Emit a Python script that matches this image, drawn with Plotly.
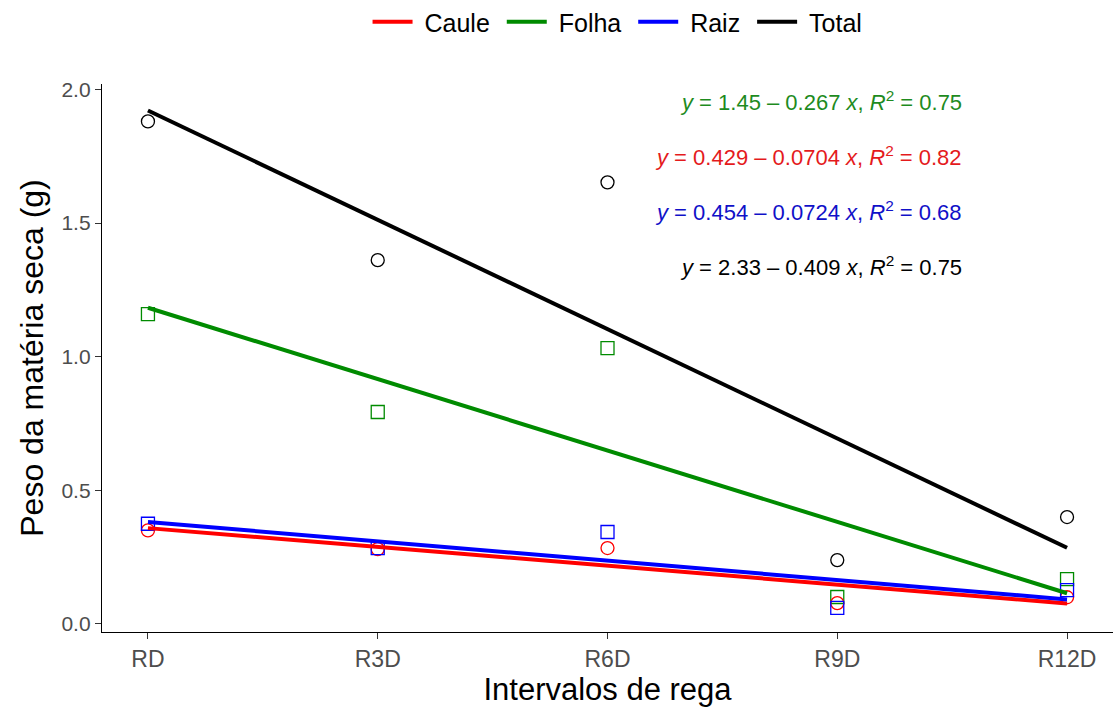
import plotly.graph_objects as go

categories = ["RD", "R3D", "R6D", "R9D", "R12D"]
x_pos = [1, 2, 3, 4, 5]

caule = [0.350, 0.280, 0.284, 0.078, 0.100]
folha = [1.159, 0.793, 1.032, 0.101, 0.168]
raiz = [0.375, 0.284, 0.344, 0.060, 0.127]
total = [1.880, 1.361, 1.652, 0.239, 0.400]

series_names = ["Caule", "Folha", "Raiz", "Total"]
intercepts = [0.429, 1.45, 0.454, 2.33]
slopes = [-0.0704, -0.267, -0.0724, -0.409]
r2 = [0.82, 0.75, 0.68, 0.75]

colors = {"Caule": "#FF0000", "Folha": "#008B00", "Raiz": "#0000FF", "Total": "#000000"}
text_colors = {"Caule": "#E41A1C", "Folha": "#1E8B1E", "Raiz": "#1010C8", "Total": "#000000"}
symbols = {"Caule": "circle-open", "Folha": "square-open", "Raiz": "square-open", "Total": "circle-open"}
values = {"Caule": caule, "Folha": folha, "Raiz": raiz, "Total": total}

FONT = "Liberation Sans, Arial, sans-serif"
NB = "\u00a0"

fig = go.Figure()

# points
for name in ["Folha", "Caule", "Raiz", "Total"]:
    fig.add_trace(go.Scatter(
        x=x_pos, y=values[name], mode="markers", showlegend=False,
        marker=dict(symbol=symbols[name], size=13, color=colors[name],
                    line=dict(width=1.3, color=colors[name])),
    ))

# regression lines
idx = {n: i for i, n in enumerate(series_names)}
for name in ["Caule", "Raiz", "Folha", "Total"]:
    i = idx[name]
    xs = [x_pos[0], x_pos[-1]]
    ys = [intercepts[i] + slopes[i] * xv for xv in xs]
    fig.add_trace(go.Scatter(
        x=xs, y=ys, mode="lines", name=NB + name + NB, legendrank=i + 1,
        line=dict(color=colors[name], width=4),
    ))

# equations
eq_order = ["Folha", "Caule", "Raiz", "Total"]
eq_y = [1.955, 1.75, 1.545, 1.34]
for name, yy in zip(eq_order, eq_y):
    i = idx[name]
    txt = (f"<i>y</i> = {intercepts[i]:g} \u2013 {abs(slopes[i]):g} <i>x</i>, "
           f"<i>R</i><sup>2</sup> = {r2[i]:.2f}")
    fig.add_annotation(x=4.55, y=yy, xref="x", yref="y", text=txt, showarrow=False,
                       xanchor="right", yanchor="middle",
                       font=dict(size=22, color=text_colors[name], family=FONT))

fig.update_layout(
    width=1113, height=710,
    margin=dict(l=102, r=0, t=84, b=78),
    paper_bgcolor="white", plot_bgcolor="white",
    font=dict(family=FONT, color="#000000"),
    legend=dict(orientation="h", x=0.558, xref="container", xanchor="center",
                y=0.969, yref="container", yanchor="middle",
                font=dict(size=25), traceorder="normal", itemwidth=40),
    showlegend=True,
)
fig.update_xaxes(
    range=[0.8, 5.2], tickmode="array", tickvals=x_pos, ticktext=categories,
    showgrid=False, zeroline=False, showline=True, linecolor="black", linewidth=1.4,
    ticks="outside", ticklen=6, tickcolor="#333333", tickwidth=1.3,
    tickfont=dict(size=23, color="#4D4D4D"), automargin=False,
    title=dict(text="Intervalos de rega", font=dict(size=31, color="black"), standoff=4),
)
fig.update_yaxes(
    range=[-0.03, 2.02], tickmode="array", tickvals=[0, 0.5, 1.0, 1.5, 2.0],
    ticktext=["0.0", "0.5", "1.0", "1.5", "2.0"],
    showgrid=False, zeroline=False, showline=True, linecolor="black", linewidth=1.4,
    ticks="outside", ticklen=6, tickcolor="#333333", tickwidth=1.3,
    tickfont=dict(size=21, color="#4D4D4D"), automargin=False,
    title=dict(text="Peso da matéria seca (g)", font=dict(size=32, color="black"), standoff=8),
)

fig.write_html("out.html")
